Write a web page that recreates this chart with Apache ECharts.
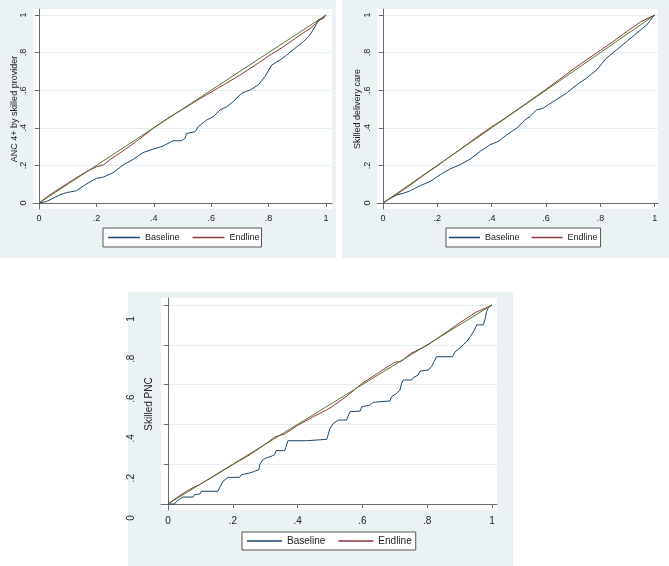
<!DOCTYPE html>
<html>
<head>
<meta charset="utf-8">
<script src="https://cdn.jsdelivr.net/npm/echarts@6/dist/echarts.min.js"></script>
<style>
html,body{margin:0;padding:0;background:#fff;}
#chart{width:669px;height:566px;}
</style>
</head>
<body>
<div id="chart"></div>
<script>
// ---- data ----
const tickValues = [0, 0.2, 0.4, 0.6, 0.8, 1];
const tickLabels = ['0', '.2', '.4', '.6', '.8', '1'];
const legendNames = ['Baseline', 'Endline'];
const yTitles = ['ANC 4+ by skilled provider', 'Skilled delivery care', 'Skilled PNC'];

const equality = [[0, 0], [1, 1]];

const ancBaseline = [[0,0],[0.025,0.007],[0.049,0.025],[0.072,0.043],[0.095,0.055],[0.13,0.065],[0.165,0.101],[0.2,0.131],[0.223,0.137],[0.258,0.161],[0.293,0.202],[0.328,0.232],[0.362,0.268],[0.397,0.286],[0.432,0.303],[0.467,0.331],[0.496,0.331],[0.509,0.344],[0.514,0.37],[0.544,0.379],[0.555,0.406],[0.584,0.441],[0.607,0.459],[0.631,0.495],[0.654,0.512],[0.677,0.539],[0.706,0.584],[0.735,0.601],[0.764,0.628],[0.787,0.672],[0.811,0.734],[0.84,0.761],[0.863,0.787],[0.892,0.823],[0.921,0.858],[0.944,0.894],[0.962,0.938],[0.973,0.973],[0.991,0.982],[1,1]];
const ancEndline = [[0,0],[0.03,0.035],[0.06,0.066],[0.1,0.105],[0.15,0.153],[0.18,0.178],[0.2,0.192],[0.225,0.203],[0.25,0.233],[0.3,0.285],[0.35,0.34],[0.4,0.4],[0.45,0.452],[0.5,0.498],[0.55,0.545],[0.6,0.59],[0.65,0.635],[0.7,0.68],[0.75,0.73],[0.8,0.782],[0.85,0.83],[0.9,0.883],[0.95,0.935],[1,1]];

const dlvBaseline = [[0,0],[0.027,0.025],[0.051,0.043],[0.076,0.052],[0.1,0.065],[0.137,0.092],[0.174,0.115],[0.211,0.151],[0.247,0.181],[0.284,0.204],[0.321,0.234],[0.358,0.275],[0.394,0.31],[0.425,0.328],[0.456,0.363],[0.493,0.399],[0.523,0.443],[0.54,0.459],[0.565,0.495],[0.589,0.504],[0.626,0.539],[0.675,0.584],[0.712,0.628],[0.749,0.664],[0.786,0.708],[0.822,0.77],[0.859,0.814],[0.896,0.858],[0.933,0.903],[0.97,0.947],[1,1]];
const dlvEndline = [[0,0],[0.05,0.045],[0.1,0.095],[0.15,0.148],[0.2,0.198],[0.25,0.25],[0.3,0.302],[0.35,0.355],[0.4,0.405],[0.45,0.452],[0.5,0.502],[0.55,0.553],[0.6,0.605],[0.65,0.658],[0.7,0.712],[0.75,0.763],[0.8,0.812],[0.85,0.862],[0.9,0.915],[0.95,0.965],[1,1]];

const pncBaseline = [[0,0],[0.02,0],[0.026,0.013],[0.046,0.035],[0.077,0.035],[0.082,0.047],[0.098,0.05],[0.103,0.064],[0.154,0.064],[0.16,0.085],[0.17,0.114],[0.185,0.134],[0.221,0.134],[0.226,0.147],[0.252,0.156],[0.267,0.164],[0.281,0.173],[0.283,0.198],[0.293,0.223],[0.303,0.231],[0.319,0.24],[0.329,0.248],[0.334,0.268],[0.36,0.268],[0.365,0.29],[0.37,0.318],[0.427,0.318],[0.432,0.323],[0.49,0.325],[0.5,0.38],[0.51,0.405],[0.526,0.422],[0.551,0.422],[0.562,0.464],[0.593,0.467],[0.598,0.489],[0.624,0.497],[0.634,0.511],[0.685,0.518],[0.69,0.539],[0.706,0.556],[0.716,0.573],[0.721,0.606],[0.726,0.623],[0.752,0.623],[0.757,0.635],[0.772,0.648],[0.778,0.668],[0.803,0.673],[0.813,0.69],[0.829,0.74],[0.878,0.74],[0.886,0.765],[0.9,0.782],[0.912,0.802],[0.922,0.816],[0.933,0.841],[0.943,0.866],[0.953,0.9],[0.973,0.9],[0.978,0.925],[0.983,0.966],[0.988,0.983],[0.996,0.997],[1,1]];
const pncEndline = [[0,0],[0.03,0.035],[0.06,0.068],[0.1,0.1],[0.15,0.148],[0.2,0.198],[0.25,0.245],[0.3,0.3],[0.33,0.337],[0.36,0.352],[0.4,0.395],[0.45,0.44],[0.5,0.482],[0.55,0.54],[0.6,0.607],[0.65,0.66],[0.7,0.712],[0.72,0.717],[0.75,0.757],[0.8,0.797],[0.85,0.853],[0.9,0.91],[0.95,0.963],[0.98,0.985],[1,1]];

// ---- styling ----
const FONT = 'Liberation Sans, Arial, sans-serif';
const BG = '#eaf2f3';
const GRIDLINE = '#e6eff1';
const AXIS = '#6b6b6b';
const TXT = '#222';
const C_BASE = '#1a476f', C_END = '#90353b', C_EQ = '#55752f';

function fmt(v) {
  const i = tickValues.findIndex(t => Math.abs(t - v) < 1e-6);
  return i >= 0 ? tickLabels[i] : '';
}

const panels = [
  {grid:{left:33, top:9, width:299, height:200}, x:[-0.021,1.021], y:[-0.032,1.032], fs:9, ylm:5, xlm:5.5, nameGap:14, lblPad:[0,0,0,0],
   legend:{left:103, top:228, itemWidth:32, itemGap:13, padding:[4,2,4,5]}, base:ancBaseline, end:ancEndline},
  {grid:{left:377, top:9, width:281, height:200}, x:[-0.022,1.012], y:[-0.032,1.032], fs:9, ylm:5, xlm:5.5, nameGap:15, lblPad:[0,0,0,0],
   legend:{left:446, top:228, itemWidth:31, itemGap:12, padding:[4,3,4,3]}, base:dlvBaseline, end:dlvEndline},
  {grid:{left:161, top:298, width:336, height:212}, x:[-0.0216,1.0154], y:[-0.03,1.035], fs:10, ylm:25, xlm:6, nameGap:7, lblPad:[0,28,0,0],
   legend:{left:242, top:532, itemWidth:35, itemGap:13, padding:[3,4,3,5]}, base:pncBaseline, end:pncEndline}
];

const grid = [], xAxis = [], yAxis = [], series = [], legend = [];
panels.forEach((p, i) => {
  grid.push(Object.assign({show:true, backgroundColor:'#fff', borderWidth:0}, p.grid));
  xAxis.push({
    type:'value', gridIndex:i, min:p.x[0], max:p.x[1],
    axisLine:{show:true, lineStyle:{color:AXIS, width:1}},
    axisTick:{show:true, length:4, customValues:tickValues, lineStyle:{color:AXIS}},
    axisLabel:{customValues:tickValues, formatter:fmt, margin:p.xlm, fontSize:p.fs, fontFamily:FONT, color:TXT},
    splitLine:{show:false}
  });
  yAxis.push({
    type:'value', gridIndex:i, min:p.y[0], max:p.y[1],
    name:yTitles[i], nameLocation:'middle', nameGap:p.nameGap, nameMoveOverlap:false,
    nameTextStyle:{fontSize:p.fs, fontFamily:FONT, color:TXT},
    axisLine:{show:true, lineStyle:{color:AXIS, width:1}},
    axisTick:{show:true, length:4, customValues:tickValues, lineStyle:{color:AXIS}},
    axisLabel:{customValues:tickValues, formatter:fmt, rotate:90, margin:p.ylm, padding:p.lblPad, fontSize:p.fs, fontFamily:FONT, color:TXT},
    splitLine:{show:true, lineStyle:{color:GRIDLINE, width:1}}
  });
  series.push(
    {name:legendNames[0], type:'line', xAxisIndex:i, yAxisIndex:i, data:p.base, symbol:'none', lineStyle:{color:C_BASE, width:1}, itemStyle:{color:C_BASE}, z:2},
    {name:legendNames[1], type:'line', xAxisIndex:i, yAxisIndex:i, data:p.end, symbol:'none', lineStyle:{color:C_END, width:1}, itemStyle:{color:C_END}, z:3},
    {name:'Equality', type:'line', xAxisIndex:i, yAxisIndex:i, data:equality, symbol:'none', lineStyle:{color:C_EQ, width:1}, itemStyle:{color:C_EQ}, z:4}
  );
  legend.push({
    left:p.legend.left, top:p.legend.top, data:legendNames, orient:'horizontal',
    icon:'rect', itemWidth:p.legend.itemWidth, itemHeight:1.5, itemGap:p.legend.itemGap, padding:p.legend.padding,
    borderColor:'#555', borderWidth:1, backgroundColor:'#fff', selectedMode:false,
    textStyle:{fontSize:p.fs, fontFamily:FONT, color:TXT, lineHeight:p.fs + 2}
  });
});

const chart = echarts.init(document.getElementById('chart'), null, {renderer:'canvas'});
chart.setOption({
  animation:false,
  backgroundColor:'#fff',
  graphic:[
    {type:'rect', z:-100, silent:true, shape:{x:0, y:0, width:336, height:258}, style:{fill:BG}},
    {type:'rect', z:-100, silent:true, shape:{x:342, y:0, width:327, height:258}, style:{fill:BG}},
    {type:'rect', z:-100, silent:true, shape:{x:128, y:292, width:385, height:274}, style:{fill:BG}}
  ],
  grid, xAxis, yAxis, series, legend
});
</script>
</body>
</html>
